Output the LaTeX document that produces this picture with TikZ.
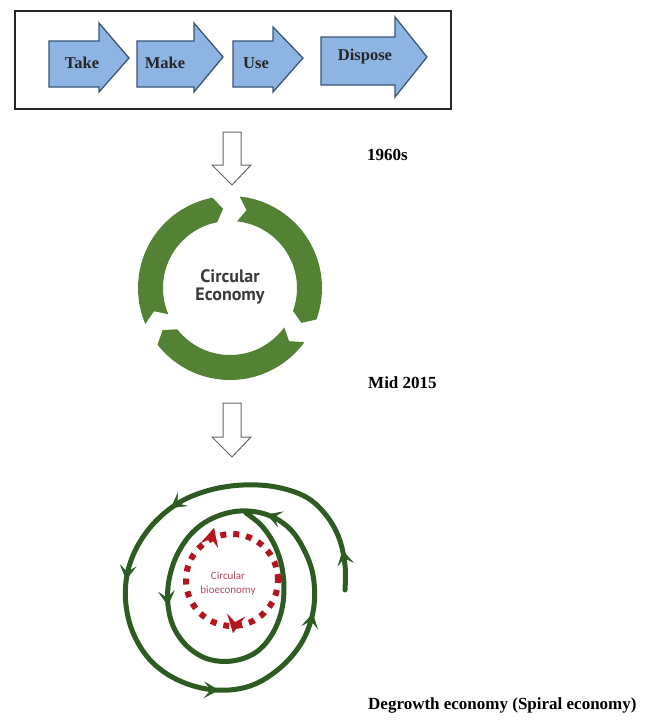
\documentclass[tikz,border=0pt]{standalone}
\usepackage{fontspec}
\setmainfont{Liberation Serif}
\newfontfamily\cesans{PT Sans}
\newfontfamily\biosans{Carlito}
\usetikzlibrary{arrows.meta,decorations.markings,calc}
\definecolor{flowfill}{HTML}{8DB4E2}
\definecolor{flowline}{HTML}{3B5675}
\definecolor{ringgreen}{HTML}{548235}
\definecolor{spiralgreen}{HTML}{2E5B22}
\definecolor{biored}{HTML}{B3141E}
\definecolor{biotext}{HTML}{B04A5A}
\definecolor{cetext}{HTML}{3A3A3A}
\begin{document}
\begin{tikzpicture}[x=1pt,y=1pt,
  flowarrow/.style={fill=flowfill, draw=flowline, line width=1.3pt, line join=miter},
  flowtext/.style={font=\fontsize{16.5}{18}\selectfont\bfseries, text=black!85, inner sep=0},
  yearlabel/.style={font=\fontsize{17}{19}\selectfont\bfseries, anchor=west, inner sep=0},
  downarrow/.style={draw=black!60, line width=1pt, fill=white, line join=miter},
  ringseg/.style={fill=ringgreen},
  spiralline/.style={draw=spiralgreen, line width=5pt, line cap=round},
  sparrow/.style={spiralgreen, line width=0.6pt},
  redtip/.style={biored, line width=0.01pt, -{Stealth[length=18pt,width=18pt,inset=7pt]}}
]
\useasboundingbox (0,-724) rectangle (651,0);

% top frame
\draw[line width=1.2pt, black!85] (15,-11) rectangle (451,-109);

% flow arrows
\draw[flowarrow] (49,-41) -- (99,-41) -- (99,-23) -- (129,-58) -- (99,-92) -- (99,-87) -- (49,-87) -- cycle;
\node[flowtext] (take) at (82,-63) {Take};
\draw[flowarrow] (137,-41) -- (194,-41) -- (194,-23) -- (223,-57) -- (194,-92) -- (194,-87) -- (137,-87) -- cycle;
\node[flowtext] (make) at (165,-63) {Make};
\draw[flowarrow] (233,-41) -- (273,-41) -- (273,-27) -- (303,-58) -- (273,-92) -- (273,-87) -- (233,-87) -- cycle;
\node[flowtext] (use) at (256,-63) {Use};
\draw[flowarrow] (321,-37) -- (395,-37) -- (395,-17) -- (427,-57) -- (395,-97) -- (395,-85) -- (321,-85) -- cycle;
\node[flowtext] (dispose) at (365,-57) {Dispose};

% hollow down arrows
\draw[downarrow] (223,-132) -- (241,-132) -- (241,-165) -- (251,-165) -- (232,-185) -- (212,-165) -- (223,-165) -- cycle;
\draw[downarrow] (223,-403) -- (241,-403) -- (241,-437) -- (251,-437) -- (232,-457) -- (212,-437) -- (223,-437) -- cycle;

% labels
\node[yearlabel] (y1960) at (367,-155) {1960s};
\node[yearlabel] (ymid) at (368,-383) {Mid 2015};
\node[yearlabel] (ydeg) at (368,-705) {Degrowth economy (Spiral economy)};

% circular economy ring
\coordinate (ce) at (230,-288);
\fill[ringseg] ($(ce)+(203:92)$) arc[start angle=203,end angle=101,radius=92]
  -- ($(ce)+(95:79.5)$) -- ($(ce)+(101:67)$) arc[start angle=101,end angle=203,radius=67]
  -- ($(ce)+(197:79.5)$) -- cycle;
\fill[ringseg] ($(ce)+(84:92)$) arc[start angle=84,end angle=-20,radius=92]
  -- ($(ce)+(-26:79.5)$) -- ($(ce)+(-20:67)$) arc[start angle=-20,end angle=84,radius=67]
  -- ($(ce)+(78:79.5)$) -- cycle;
\fill[ringseg] ($(ce)+(-36:92)$) arc[start angle=-36,end angle=-142,radius=92]
  -- ($(ce)+(-148:79.5)$) -- ($(ce)+(-142:67)$) arc[start angle=-142,end angle=-36,radius=67]
  -- ($(ce)+(-42:79.5)$) -- cycle;
\node[font=\cesans\bfseries\fontsize{18}{18}\selectfont, text=cetext, align=center] (cetxt) at (230,-287) {Circular\\Economy};

% spiral
\draw[spiralline, postaction={decorate}, decoration={markings,
    mark=at position 40pt with {\arrow[sparrow]{Stealth[length=15pt,width=17pt,inset=7pt]}},
    mark=at position 248pt with {\arrow[sparrow]{Stealth[length=15pt,width=17pt,inset=7pt]}},
    mark=at position 335pt with {\arrow[sparrow]{Stealth[length=15pt,width=17pt,inset=7pt]}},
    mark=at position 498pt with {\arrow[sparrow]{Stealth[length=15pt,width=17pt,inset=7pt]}},
    mark=at position 630pt with {\arrow[sparrow]{Stealth[length=15pt,width=17pt,inset=7pt]}},
    mark=at position 748pt with {\arrow[sparrow]{Stealth[length=15pt,width=17pt,inset=7pt]}},
    mark=at position 908pt with {\arrow[sparrow]{Stealth[length=15pt,width=17pt,inset=7pt]}}}]
  plot[smooth, tension=0.6] coordinates {
  (345,-590) (345,-565) (339,-538) (326,-515) (306,-497) (276,-487) (243,-485)
  (210,-490) (180,-502) (155,-522) (137,-547) (127,-575) (126,-605) (134,-635)
  (152,-662) (180,-681) (215,-690) (250,-686) (280,-668) (302,-642) (313,-612)
  (314,-582) (307,-556) (291,-530) (268,-515) (240,-511) (213,-518) (192,-533)
  (177,-555) (169,-580) (168,-605) (174,-628) (188,-647) (208,-659) (232,-661)
  (255,-653) (271,-636) (281,-613) (284,-588) (281,-563) (273,-542) (261,-525) (246,-513)};

% circular bioeconomy
\coordinate (bc) at (232,-580);
\draw[biored, line width=6pt, dash pattern=on 6pt off 7pt] (bc) circle[radius=46];
\coordinate (rtA) at (214,-528);
\coordinate (rtB) at (233,-633);
\draw[redtip] ($(rtA)+(255:1)$) -- (rtA);
\draw[redtip] ($(rtB)+(80:1)$) -- (rtB);
\node[font=\biosans\fontsize{11}{14}\selectfont, text=biotext, align=center] (bio) at (228,-584) {Circular\\bioeconomy};
\end{tikzpicture}
\end{document}
